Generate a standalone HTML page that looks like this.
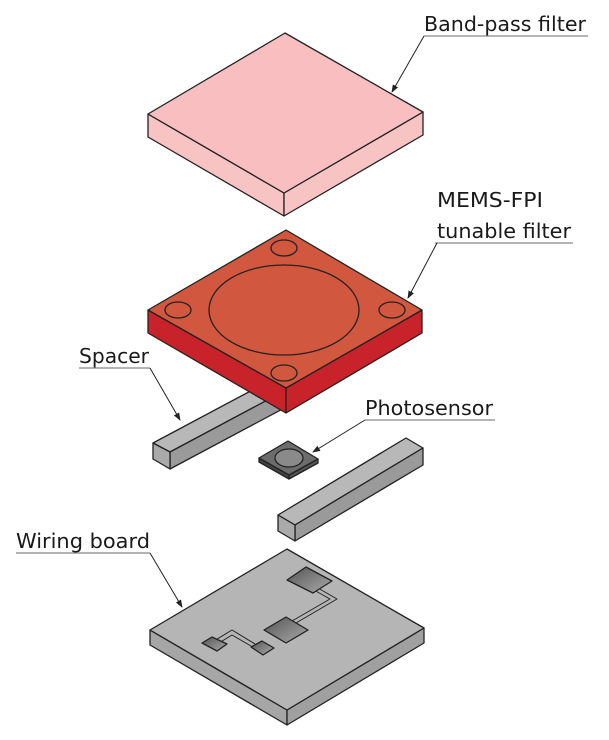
<!DOCTYPE html>
<html><head><style>html,body{margin:0;padding:0;background:#fff}</style></head>
<body>
<svg width="609" height="735" viewBox="0 0 609 735" xmlns="http://www.w3.org/2000/svg" font-family="DejaVu Sans, Liberation Sans, sans-serif" font-size="20" fill="#1a1a1a">
<defs>
<marker id="a" markerWidth="8" markerHeight="8" refX="7" refY="4" orient="auto" markerUnits="userSpaceOnUse"><path d="M0,1 L8,4 L0,7z" fill="#222"/></marker>
<linearGradient id="pg" x1="0" y1="0" x2="1" y2="1"><stop offset="0" stop-color="#555"/><stop offset="1" stop-color="#aaa"/></linearGradient>
</defs>
<g stroke="#222" stroke-width="1.3" stroke-linejoin="round">
<!-- band-pass -->
<polygon points="148,114 284,193 284,216 148,137" fill="#f8c3c3"/>
<polygon points="284,193 423,112 423,135 284,216" fill="#f8c3c3"/>
<polygon points="285,33 423,112 284,193 148,114" fill="#f9bfc0"/>
<!-- spacer 1 -->
<polygon points="153,443 303,363 320,372 170,452" fill="#b8b8b8"/>
<polygon points="170,452 320,372 320,389 170,469" fill="#9a9a9a"/>
<polygon points="153,443 170,452 170,469 153,459" fill="#aaa"/>
<!-- MEMS -->
<polygon points="148,310 286,388 286,413 148,333" fill="#c8222a"/>
<polygon points="286,388 422,310 422,333 286,413" fill="#c8222a"/>
<polygon points="286,230 422,310 286,388 148,310" fill="#d2573f"/>
<ellipse cx="284" cy="310" rx="75" ry="45" fill="none"/>
<ellipse cx="284" cy="248" rx="13" ry="8" fill="none"/>
<ellipse cx="178" cy="310" rx="13" ry="8" fill="none"/>
<ellipse cx="392" cy="310" rx="13" ry="8" fill="none"/>
<ellipse cx="284" cy="373" rx="13" ry="8" fill="none"/>
<!-- photosensor -->
<polygon points="259,458 289,475 289,479 259,462" fill="#444"/>
<polygon points="289,475 318,459 318,463 289,479" fill="#555"/>
<polygon points="259,458 288,441 318,459 289,475" fill="#6c6c6c"/>
<ellipse cx="289" cy="458" rx="14" ry="9" fill="#8a8a8a"/>
<!-- spacer 2 -->
<polygon points="278,515 406,438 423,448 295,525" fill="#b8b8b8"/>
<polygon points="295,525 423,448 423,465 295,541" fill="#9a9a9a"/>
<polygon points="278,515 295,525 295,541 278,531" fill="#aaa"/>
<!-- wiring board -->
<polygon points="150,630 287,710 287,725 150,645" fill="#a6a6a6"/>
<polygon points="287,710 424,628 424,643 287,725" fill="#a0a0a0"/>
<polygon points="287,549 424,628 287,710 150,630" fill="#b5b5b6"/>
<g stroke-width="1" fill="none">
<polyline points="318,588 337,599 296,623"/><polyline points="314,590 330,599 292,621"/>
<polyline points="214,641 232,630 255,644"/><polyline points="219,643 232,635 251,646"/>
</g>
<polygon points="287,580 306,567 332,581 313,593" fill="url(#pg)"/>
<polygon points="264,630 286,617 308,630 286,643" fill="url(#pg)"/>
<polygon points="202,643 212,637 227,644 217,651" fill="url(#pg)"/>
<polygon points="251,647 262,641 274,648 263,655" fill="url(#pg)"/>
</g>
<!-- labels -->
<g stroke="#888" stroke-width="1.2" fill="none">
<line x1="424" y1="36" x2="588" y2="36"/>
<line x1="435" y1="243" x2="573" y2="243"/>
<line x1="79" y1="368" x2="150" y2="368"/>
<line x1="365" y1="420" x2="495" y2="420"/>
<line x1="16" y1="553" x2="150" y2="553"/>
</g>
<g stroke="#222" stroke-width="1" fill="none" marker-end="url(#a)">
<line x1="424" y1="36" x2="392" y2="92"/>
<line x1="437" y1="243" x2="408" y2="298"/>
<line x1="150" y1="368" x2="180" y2="420"/>
<line x1="365" y1="420" x2="313" y2="452"/>
<line x1="150" y1="553" x2="182" y2="607"/>
</g>
<text x="424" y="31" textLength="162" lengthAdjust="spacingAndGlyphs">Band-pass filter</text>
<text x="437" y="207" textLength="106" lengthAdjust="spacingAndGlyphs">MEMS-FPI</text>
<text x="437" y="238" textLength="134" lengthAdjust="spacingAndGlyphs">tunable filter</text>
<text x="79" y="363" textLength="70" lengthAdjust="spacingAndGlyphs">Spacer</text>
<text x="365" y="415" textLength="128" lengthAdjust="spacingAndGlyphs">Photosensor</text>
<text x="16" y="548" textLength="134" lengthAdjust="spacingAndGlyphs">Wiring board</text>
</svg>
</body></html>
